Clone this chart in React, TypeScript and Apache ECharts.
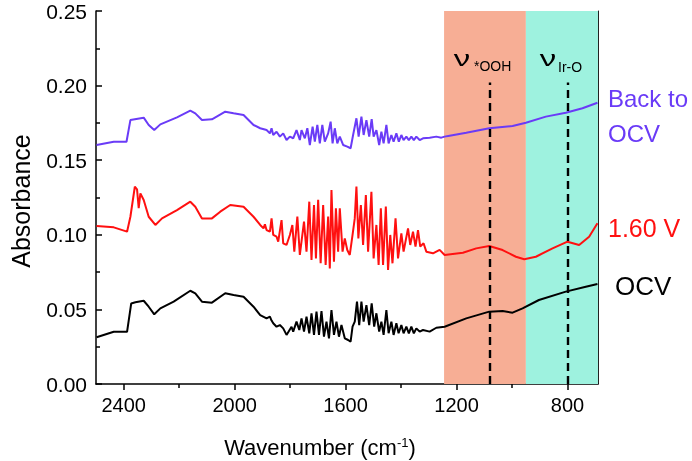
import React, { useEffect, useRef } from "react";
import * as echarts from "echarts";

// OCV (black)
const ocvWn = [2498, 2436, 2388, 2373, 2358, 2328, 2310, 2290, 2268, 2220, 2160, 2142, 2118, 2082, 2034, 2004, 1968, 1932, 1908, 1885, 1873, 1867, 1861, 1849, 1837, 1825, 1813, 1795, 1789, 1777, 1767, 1759, 1750, 1741, 1731, 1723, 1714, 1705, 1696, 1687, 1678, 1669, 1660, 1651, 1642, 1633, 1624, 1615, 1603, 1591, 1582, 1575, 1567, 1559, 1551, 1543, 1535, 1525, 1515, 1506, 1497, 1489, 1479, 1471, 1463, 1453, 1445, 1435, 1427, 1417, 1409, 1399, 1391, 1381, 1372, 1363, 1354, 1345, 1333, 1321, 1297, 1273, 1243, 1165, 1082, 1034, 998, 962, 903, 806, 734, 692];
const ocvAbs = [0.0313, 0.035, 0.035, 0.054, 0.0548, 0.0558, 0.0518, 0.0467, 0.0507, 0.0552, 0.0625, 0.0608, 0.0552, 0.0545, 0.0608, 0.0596, 0.0585, 0.0518, 0.0462, 0.044, 0.0451, 0.0425, 0.0407, 0.0384, 0.0395, 0.0373, 0.0329, 0.0384, 0.0351, 0.0418, 0.0362, 0.044, 0.0351, 0.0451, 0.034, 0.0474, 0.0329, 0.0485, 0.0329, 0.0489, 0.0317, 0.0418, 0.0306, 0.0496, 0.0329, 0.0418, 0.0317, 0.0396, 0.0306, 0.0295, 0.0284, 0.0384, 0.0418, 0.0552, 0.0395, 0.0552, 0.0418, 0.0529, 0.0395, 0.0541, 0.0384, 0.0474, 0.0351, 0.0418, 0.0329, 0.0496, 0.034, 0.0418, 0.0329, 0.0407, 0.034, 0.0395, 0.034, 0.0384, 0.034, 0.0384, 0.034, 0.0373, 0.0351, 0.0362, 0.0351, 0.0377, 0.0384, 0.044, 0.0485, 0.0489, 0.0478, 0.0507, 0.0563, 0.0619, 0.0652, 0.067];

// 1.60 V (red)
const v160Wn = [2498, 2436, 2388, 2376, 2360, 2352, 2346, 2340, 2328, 2310, 2286, 2262, 2208, 2160, 2142, 2118, 2082, 2052, 2016, 1968, 1932, 1908, 1896, 1891, 1885, 1873, 1867, 1861, 1849, 1843, 1831, 1825, 1813, 1801, 1792, 1785, 1774, 1765, 1750, 1741, 1731, 1723, 1714, 1707, 1699, 1690, 1681, 1672, 1663, 1657, 1651, 1642, 1635, 1627, 1621, 1611, 1603, 1594, 1585, 1575, 1567, 1561, 1554, 1545, 1537, 1527, 1519, 1507, 1499, 1489, 1481, 1473, 1465, 1455, 1447, 1439, 1431, 1420, 1411, 1399, 1391, 1375, 1367, 1357, 1348, 1339, 1331, 1319, 1309, 1285, 1261, 1243, 1177, 1129, 1082, 1034, 986, 956, 914, 854, 800, 758, 722, 692];
const v160Abs = [0.1059, 0.105, 0.1021, 0.1121, 0.1322, 0.1305, 0.1178, 0.1278, 0.1233, 0.1121, 0.1066, 0.111, 0.1166, 0.1222, 0.1188, 0.111, 0.111, 0.1155, 0.12, 0.1188, 0.1121, 0.1066, 0.1043, 0.107, 0.1032, 0.1021, 0.111, 0.0999, 0.0987, 0.0954, 0.1099, 0.0943, 0.0932, 0.0999, 0.1066, 0.0887, 0.1122, 0.0865, 0.1088, 0.0887, 0.1222, 0.0831, 0.12, 0.0842, 0.1234, 0.0809, 0.12, 0.0798, 0.1122, 0.0775, 0.13, 0.082, 0.1177, 0.0887, 0.1177, 0.0887, 0.0976, 0.0898, 0.0865, 0.0999, 0.111, 0.1323, 0.0976, 0.12, 0.0932, 0.1267, 0.0887, 0.1289, 0.0842, 0.1066, 0.0798, 0.1177, 0.0798, 0.1189, 0.0764, 0.0999, 0.0809, 0.111, 0.0842, 0.101, 0.0887, 0.1043, 0.0932, 0.1021, 0.0921, 0.1032, 0.0921, 0.0943, 0.0887, 0.0876, 0.0899, 0.0865, 0.088, 0.0909, 0.0925, 0.0898, 0.0853, 0.0836, 0.0853, 0.0909, 0.0954, 0.0932, 0.0987, 0.1077];

// Back to OCV (purple)
const backWn = [2498, 2436, 2390, 2376, 2328, 2310, 2290, 2268, 2208, 2160, 2142, 2118, 2082, 2034, 2004, 1968, 1932, 1908, 1885, 1873, 1867, 1861, 1849, 1837, 1825, 1813, 1801, 1789, 1777, 1765, 1759, 1747, 1738, 1729, 1719, 1711, 1702, 1693, 1684, 1675, 1663, 1654, 1647, 1639, 1630, 1621, 1609, 1594, 1582, 1573, 1561, 1553, 1543, 1535, 1525, 1515, 1506, 1499, 1489, 1479, 1471, 1463, 1453, 1445, 1435, 1427, 1417, 1408, 1399, 1391, 1381, 1372, 1363, 1354, 1345, 1333, 1321, 1297, 1273, 1255, 1243, 1225, 1165, 1082, 998, 950, 878, 806, 746, 692];
const backAbs = [0.1602, 0.1624, 0.1624, 0.1769, 0.1785, 0.1736, 0.1702, 0.174, 0.1787, 0.1832, 0.1814, 0.1769, 0.1774, 0.1825, 0.1814, 0.1803, 0.1736, 0.1714, 0.1702, 0.168, 0.1714, 0.1669, 0.1691, 0.1658, 0.168, 0.1635, 0.1658, 0.1647, 0.1702, 0.1635, 0.1702, 0.1647, 0.1714, 0.1602, 0.1725, 0.1624, 0.1736, 0.1613, 0.1736, 0.1624, 0.168, 0.1758, 0.1613, 0.1714, 0.1613, 0.1658, 0.1602, 0.1591, 0.158, 0.1669, 0.1781, 0.1658, 0.1792, 0.1669, 0.1769, 0.1658, 0.1776, 0.1658, 0.1702, 0.1602, 0.1691, 0.1613, 0.1736, 0.1613, 0.1669, 0.1624, 0.168, 0.1624, 0.1669, 0.1635, 0.1658, 0.1635, 0.1658, 0.1635, 0.1658, 0.1635, 0.1647, 0.1651, 0.1658, 0.1651, 0.1658, 0.1664, 0.1684, 0.1714, 0.1729, 0.1751, 0.1792, 0.1818, 0.1848, 0.1885];

const xLabelTicks = [800, 1200, 1600, 2000, 2400];
const xMinorTicks = [1000, 1400, 1800, 2200];
const salmonBand = [1245, 950];
const aquaBand = [950, 690];
const peakWn = [1080, 800];
const peakTop = 0.202;

const FONT = "'Liberation Sans', Arial, sans-serif";
const PURPLE = "#6A3BF7";
const RED = "#FF1010";

const zip = (a: number[], b: number[]) => a.map((v, i) => [v, b[i]]);

export default function App() {
  const ref = useRef<HTMLDivElement>(null);
  useEffect(() => {
    const chart = echarts.init(ref.current!, null, { renderer: "svg" });
    const axisLine = { show: true, onZero: false, lineStyle: { color: "#000", width: 1.5 } };
    const tickStyle = { color: "#000", width: 1.5 };
    const txt = (x: number, y: number, text: string, fontSize: number, fill: string, align = "left", extra: any = {}) => ({
      type: "text", x, y, z: 100, ...extra,
      style: { text, fontSize, fill, align, verticalAlign: "middle", fontFamily: FONT },
    });
    chart.setOption({
      animation: false,
      grid: { left: 96, right: 94, top: 11, bottom: 77 },
      xAxis: [
        {
          type: "value", min: 690, max: 2500, inverse: true, position: "bottom",
          axisLine,
          axisTick: { show: true, inside: false, length: 6, customValues: xLabelTicks, lineStyle: tickStyle },
          axisLabel: { customValues: xLabelTicks, formatter: (v: number) => String(v), fontSize: 20, color: "#000", margin: 11, fontFamily: FONT },
          splitLine: { show: false },
        },
        {
          type: "value", min: 690, max: 2500, inverse: true, position: "bottom",
          axisLine: { show: false },
          axisTick: { show: true, inside: false, length: 4, customValues: xMinorTicks, lineStyle: tickStyle },
          axisLabel: { show: false },
          splitLine: { show: false },
        },
      ],
      yAxis: [
        {
          type: "value", min: 0, max: 0.25, interval: 0.05,
          axisLine,
          axisTick: { show: true, inside: true, length: 6, lineStyle: tickStyle },
          minorTick: { show: true, splitNumber: 2, length: 4, lineStyle: tickStyle },
          axisLabel: { formatter: (v: number) => v.toFixed(2), fontSize: 21, color: "#000", margin: 9, fontFamily: FONT },
          splitLine: { show: false },
        },
        {
          type: "value", min: 0, max: 0.25, position: "right",
          axisLine: { show: true, lineStyle: { color: "#222", width: 1 } },
          axisTick: { show: false }, axisLabel: { show: false }, splitLine: { show: false },
        },
      ],
      series: [
        {
          type: "line", name: "bands", data: [], z: 1, silent: true,
          markArea: {
            silent: true,
            data: [
              [{ xAxis: salmonBand[0], itemStyle: { color: "#F7AE95" } }, { xAxis: salmonBand[1] }],
              [{ xAxis: aquaBand[0], itemStyle: { color: "#9EF2DF" } }, { xAxis: aquaBand[1] }],
            ],
          },
        },
        { type: "line", name: "OCV", data: zip(ocvWn, ocvAbs), showSymbol: false, z: 3, lineStyle: { color: "#000", width: 2 }, itemStyle: { color: "#000" } },
        { type: "line", name: "1.60 V", data: zip(v160Wn, v160Abs), showSymbol: false, z: 3, lineStyle: { color: RED, width: 2 }, itemStyle: { color: RED } },
        { type: "line", name: "Back to OCV", data: zip(backWn, backAbs), showSymbol: false, z: 3, lineStyle: { color: PURPLE, width: 2 }, itemStyle: { color: PURPLE } },
        {
          type: "line", name: "peaks", data: [], z: 4, silent: true,
          markLine: {
            silent: true,
            symbol: ["none", "none"],
            label: { show: false },
            lineStyle: { type: [8, 5], color: "#000", width: 2.4 },
            data: peakWn.map((w) => [{ coord: [w, 0] }, { coord: [w, peakTop] }]),
          },
        },
      ],
      graphic: [
        txt(21, 201, "Absorbance", 25, "#000", "center", { rotation: Math.PI / 2 }),
        {
          type: "text", x: 320, y: 447, z: 100,
          style: {
            text: "{a|Wavenumber (cm}{b|-1}{a|)}", align: "center", verticalAlign: "middle", fontFamily: FONT, fill: "#000",
            rich: { a: { fontSize: 22, fontFamily: FONT, verticalAlign: "bottom" }, b: { fontSize: 13, fontFamily: FONT, verticalAlign: "top" } },
          },
        },
        txt(462, 59, "ν", 22, "#000", "center", { scaleX: 1.5 }),
        txt(474, 66, "*OOH", 14, "#000"),
        txt(548, 59, "ν", 22, "#000", "center", { scaleX: 1.5 }),
        txt(558, 67, "Ir-O", 14, "#000"),
        txt(608, 98, "Back to", 24, PURPLE),
        txt(608, 133, "OCV", 24, PURPLE),
        txt(608, 228, "1.60 V", 25, RED),
        txt(615, 286, "OCV", 26, "#000"),
      ],
    });
    return () => chart.dispose();
  }, []);
  return <div ref={ref} style={{ position: "fixed", left: 0, top: 0, width: 692, height: 461 }} />;
}
